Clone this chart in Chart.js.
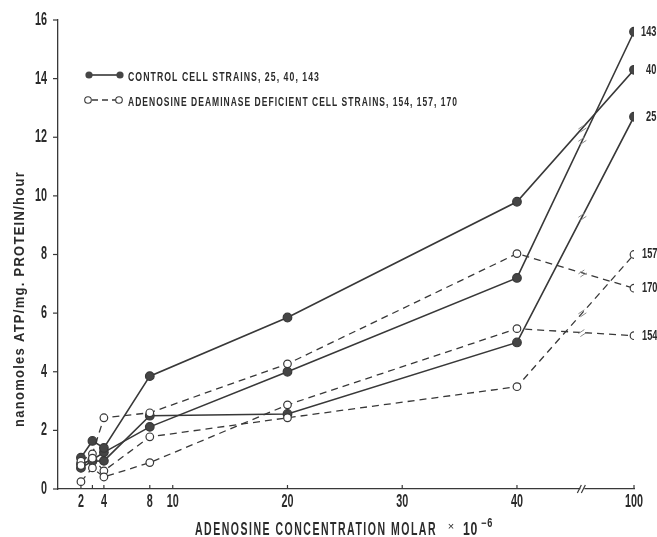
<!DOCTYPE html>
<html>
<head>
<meta charset="utf-8">
<script src="https://cdn.jsdelivr.net/npm/chart.js"></script>
<style>
html, body { margin: 0; padding: 0; background: #fff; }
canvas { display: block; }
</style>
</head>
<body>
<canvas id="atpChart" width="657" height="537"></canvas>
<script>
// adenosine concentration, molar x 10^-6
const concentrations = [2, 3, 4, 8, 20, 40, 100];

// control cell strains
const control25  = [0.72, 0.95, 0.96, 2.50, 2.56, 5.00, 12.70];
const control40  = [1.07, 1.64, 1.40, 3.85, 5.85, 9.80, 14.30];
const control143 = [0.85, 1.00, 1.25, 2.12, 4.00, 7.20, 15.60];

// adenosine deaminase deficient cell strains
const ada154 = [0.25, 0.72, 0.41, 0.90, 2.87, 5.47, 5.23];
const ada157 = [0.80, 1.05, 0.62, 1.78, 2.43, 3.49, 8.00];
const ada170 = [0.95, 1.20, 2.43, 2.60, 4.27, 8.03, 6.85];

const xTickValues = [2, 3, 4, 8, 10, 20, 30, 40, 100];
const xTickLabels = ['2', '', '4', '8', '10', '20', '30', '40', '100'];
const yTickValues = [0, 2, 4, 6, 8, 10, 12, 14, 16];

// the x axis is broken between 40 and 100, so 100 sits at 50.2 on the linear scale
const BREAK_POS = 45.7;
const POS_100 = 50.2;
const axisPos = c => (c === 100 ? POS_100 : c);

const INK = '#383838';
const FONT = '"Liberation Sans", Arial, sans-serif';

function series(name, values, control, labelGap) {
    return {
        label: name,
        data: concentrations.map((c, i) => ({ x: axisPos(c), y: values[i] })),
        borderColor: INK,
        borderWidth: control ? 1.6 : 1.3,
        borderDash: control ? [] : [7, 5],
        pointRadius: control ? 4.3 : 3.8,
        pointHoverRadius: control ? 4.3 : 3.8,
        pointBackgroundColor: control ? '#454545' : '#fff',
        pointBorderColor: INK,
        pointBorderWidth: 1.2,
        tension: 0,
        fill: false,
        labelGap: labelGap
    };
}

// condensed text: scaled horizontally
function cText(ctx, str, x, y, font, sx, align, baseline) {
    ctx.save();
    ctx.font = font;
    ctx.translate(x, y);
    ctx.scale(sx, 1);
    ctx.textAlign = align;
    ctx.textBaseline = baseline;
    ctx.fillText(str, 0, 0);
    ctx.restore();
}

// text squeezed to a given width, starting at x
function fitText(ctx, str, x, y, font, width, spacing) {
    ctx.save();
    ctx.font = font;
    ctx.letterSpacing = spacing + 'px';
    const w = ctx.measureText(str).width;
    ctx.translate(x, y);
    ctx.scale(width / w, 1);
    ctx.textAlign = 'left';
    ctx.textBaseline = 'alphabetic';
    ctx.fillText(str, 0, 0);
    ctx.restore();
}

function line(ctx, x1, y1, x2, y2) {
    ctx.beginPath();
    ctx.moveTo(x1, y1);
    ctx.lineTo(x2, y2);
    ctx.stroke();
}

const decor = {
    id: 'decor',
    afterDraw(chart) {
        const ctx = chart.ctx;
        const xs = chart.scales.x, ys = chart.scales.y;
        const area = chart.chartArea;
        const tickFont = 'bold 18px ' + FONT;
        ctx.save();
        ctx.fillStyle = '#2b2b2b';
        ctx.strokeStyle = INK;
        ctx.lineWidth = 1.2;

        // y ticks + labels
        yTickValues.forEach(v => {
            const py = ys.getPixelForValue(v);
            line(ctx, area.left - 5, py, area.left, py);
            cText(ctx, String(v), area.left - 11, py, tickFont, 0.6, 'right', 'middle');
        });

        // x ticks (inward) + labels
        xTickValues.forEach((v, i) => {
            const px = xs.getPixelForValue(axisPos(v));
            line(ctx, px, area.bottom, px, area.bottom - 4);
            if (xTickLabels[i]) cText(ctx, xTickLabels[i], px, 502, tickFont, 0.6, 'center', 'middle');
        });

        // axis break
        const bx = xs.getPixelForValue(BREAK_POS);
        ctx.fillStyle = '#fff';
        ctx.fillRect(bx - 2, area.bottom - 2, 4, 4);
        ctx.fillStyle = '#2b2b2b';
        line(ctx, bx - 5, area.bottom + 4, bx - 1, area.bottom - 4);
        line(ctx, bx - 1, area.bottom + 4, bx + 3, area.bottom - 4);

        // break marks on the lines
        ctx.strokeStyle = '#8a8a8a';
        ctx.lineWidth = 1;
        chart.data.datasets.forEach(ds => {
            const a = ds.data[5], b = ds.data[6];
            const t = (BREAK_POS - a.x) / (b.x - a.x);
            const yv = a.y + t * (b.y - a.y);
            const px = xs.getPixelForValue(BREAK_POS);
            const py = ys.getPixelForValue(yv);
            line(ctx, px - 4, py + 1, px + 2, py - 3);
            line(ctx, px - 2, py + 4, px + 4, py);
        });

        // strain labels at the right end
        ctx.fillStyle = '#2b2b2b';
        chart.data.datasets.forEach(ds => {
            const p = ds.data[ds.data.length - 1];
            cText(ctx, ds.label, xs.getPixelForValue(p.x) + ds.labelGap, ys.getPixelForValue(p.y),
                'bold 14px ' + FONT, 0.66, 'left', 'middle');
        });

        // legend
        ctx.strokeStyle = INK;
        ctx.lineWidth = 1.6;
        line(ctx, 89, 75, 120, 75);
        ctx.fillStyle = '#454545';
        [89, 120].forEach(x => { ctx.beginPath(); ctx.arc(x, 75, 3.6, 0, Math.PI * 2); ctx.fill(); });
        ctx.lineWidth = 1.3;
        ctx.setLineDash([6, 4]);
        line(ctx, 92, 100, 116, 100);
        ctx.setLineDash([]);
        ctx.lineWidth = 1.1;
        ctx.fillStyle = '#fff';
        [88, 119].forEach(x => { ctx.beginPath(); ctx.arc(x, 100, 3.3, 0, Math.PI * 2); ctx.fill(); ctx.stroke(); });
        ctx.fillStyle = '#2b2b2b';
        const legFont = 'bold 12.5px ' + FONT;
        fitText(ctx, 'CONTROL CELL STRAINS, 25, 40, 143', 128, 80.5, legFont, 192, 1.5);
        fitText(ctx, 'ADENOSINE DEAMINASE DEFICIENT CELL STRAINS, 154, 157, 170', 128, 105.5, legFont, 330, 1.5);

        // x title
        const titleFont = 'bold 17.5px ' + FONT;
        fitText(ctx, 'ADENOSINE CONCENTRATION MOLAR', 195, 535, titleFont, 242, 2.5);
        cText(ctx, '×', 451, 530, '11px ' + FONT, 1, 'center', 'alphabetic');
        fitText(ctx, '10', 463, 535, titleFont, 15, 1);
        fitText(ctx, '−6', 481, 527, 'bold 12px ' + FONT, 12, 1);

        // y title
        ctx.save();
        ctx.translate(24, 299);
        ctx.rotate(-Math.PI / 2);
        fitText(ctx, 'nanomoles ATP/mg. PROTEIN/hour', -128, 0, 'bold 15px ' + FONT, 256, 1.5);
        ctx.restore();

        ctx.restore();
    }
};

new Chart(document.getElementById('atpChart'), {
    type: 'line',
    data: {
        datasets: [
            series('154', ada154, false, 8),
            series('157', ada157, false, 8),
            series('170', ada170, false, 8),
            series('25', control25, true, 12),
            series('40', control40, true, 12),
            series('143', control143, true, 7)
        ]
    },
    options: {
        responsive: false,
        animation: false,
        devicePixelRatio: 1,
        layout: { padding: { left: 0, top: 20, right: 23, bottom: 0 } },
        plugins: {
            legend: { display: false },
            tooltip: { enabled: false }
        },
        scales: {
            x: {
                type: 'linear',
                min: 0,
                max: POS_100,
                afterBuildTicks: s => { s.ticks = xTickValues.map(v => ({ value: axisPos(v) })); },
                afterFit: s => { s.height = 48; },
                ticks: { display: false },
                grid: { display: false },
                border: { display: true, color: INK, width: 1.3 }
            },
            y: {
                min: 0,
                max: 16,
                afterFit: s => { s.width = 58; },
                ticks: { display: false, stepSize: 2 },
                grid: { display: false },
                border: { display: true, color: INK, width: 1.3 }
            }
        }
    },
    plugins: [decor]
});
</script>
</body>
</html>
